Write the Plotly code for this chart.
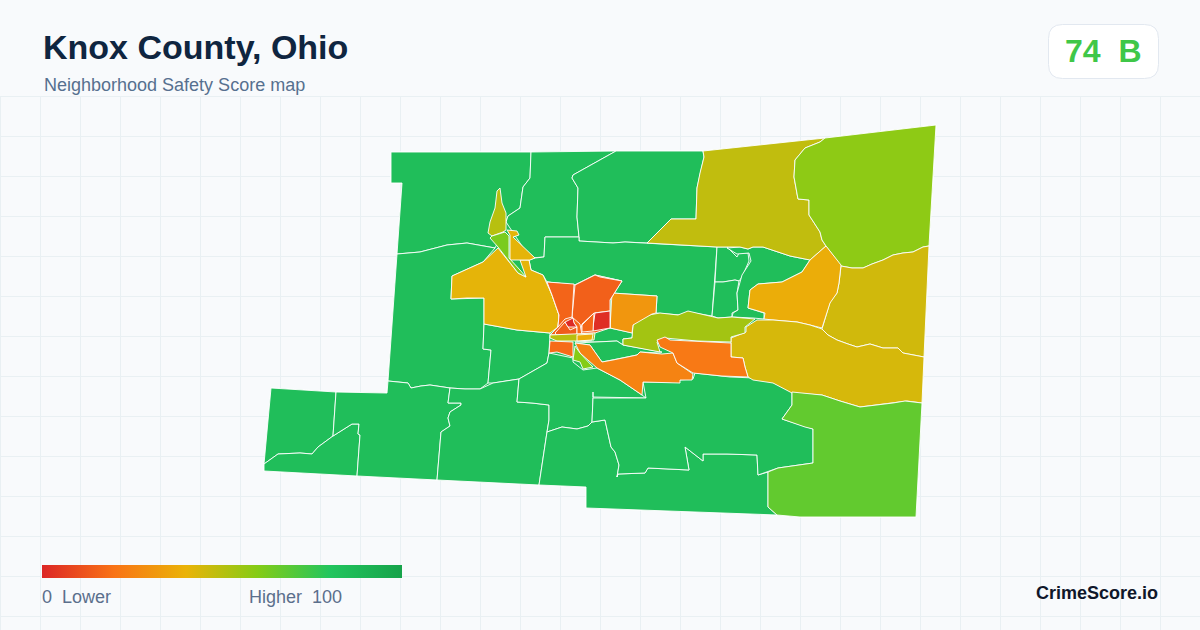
import plotly.graph_objects as go
from plotly.colors import sample_colorscale

# Map outlines are in map units (1 unit = 1 page pixel)
t_county = [(391,152),(531,152),(616,151),(703,151),(825,138),(936,125),(929,246),(924,357),(922,403),(916,517),(800,517),(777,515),(586,508),(586,487),(539,485),(437,480),(357,476),(264,471),(271,388),(336,392),(387,393),(388,381),(391,340),(397,254),(402,183),(391,183)]
t_nw = [(391,152),(531,152),(530,178),(523,187),(520,208),(508,216),(506,222),(503,232),(495,248),(467,243),(447,245),(420,252),(397,254),(402,183),(391,183)]
t_nmid = [(531,152),(616,151),(573,175),(572,178),(578,188),(577,217),(579,237),(545,237),(544,257),(530,258),(506,222),(508,216),(520,208),(523,187),(530,178)]
t_nright = [(616,151),(703,151),(704,157),(700,173),(697,188),(696,219),(671,219),(662,228),(647,243),(625,242),(613,243),(579,241),(579,237),(577,217),(578,188),(572,178),(573,175)]
t_central = [(545,237),(579,237),(579,241),(613,243),(625,242),(647,243),(680,245),(717,247),(712,316),(688,312),(680,315),(656,313),(657,296),(612,293),(622,281),(595,275),(575,285),(547,282),(543,275),(531,270),(529,260),(535,258),(544,257)]
t_cell1 = [(717,247),(727,247),(737,257),(739,253),(748,253),(749,261),(742,277),(739,281),(735,280),(723,282),(715,282)]
t_cell2 = [(715,282),(723,282),(735,280),(739,281),(737,293),(738,310),(732,313),(732,317),(718,318),(712,316)]
t_cell3 = [(727,248),(740,247),(748,249),(753,247),(763,247),(790,256),(810,260),(802,272),(782,282),(758,284),(750,290),(748,308),(764,313),(764,319),(753,318),(732,317),(733,313),(738,310),(737,293),(742,275),(751,261),(749,253),(737,254)]
t_west = [(388,381),(391,340),(397,254),(420,252),(447,245),(467,243),(495,248),(483,262),(452,276),(451,299),(484,298),(484,324),(483,349),(491,350),(488,383),(480,389),(465,389),(450,388),(430,385),(421,386),(411,388),(408,383),(400,382)]
t_westmid = [(484,324),(517,330),(550,333),(549,353),(547,363),(519,379),(493,383),(488,383),(491,350),(483,349)]
t_sw_box = [(271,388),(336,392),(333,436),(318,447),(312,454),(300,453),(278,454),(264,464)]
t_sw_low = [(264,464),(278,454),(300,453),(312,454),(318,447),(333,436),(352,424),(359,424),(358,434),(360,435),(357,476),(264,471)]
t_sw_mid = [(336,392),(387,393),(388,381),(400,382),(408,383),(411,388),(421,386),(430,385),(450,388),(448,403),(461,403),(461,405),(450,412),(448,418),(450,426),(441,432),(437,480),(357,476),(360,435),(358,434),(359,424),(352,424),(333,436)]
t_s_mid = [(450,388),(465,389),(480,389),(493,383),(519,379),(517,402),(532,403),(549,405),(549,420),(547,432),(539,485),(437,480),(441,432),(450,426),(448,418),(450,412),(461,405),(461,403),(448,403)]
t_s_town = [(519,379),(547,363),(549,353),(573,358),(573,362),(583,370),(597,368),(620,380),(642,395),(646,398),(593,397),(593,392),(593,398),(592,422),(588,426),(577,429),(562,427),(547,432),(549,420),(549,405),(532,403),(517,402)]
t_strip = [(539,485),(586,487),(586,508),(777,515),(768,507),(768,472),(758,475),(757,455),(727,454),(703,454),(703,461),(685,447),(689,470),(648,468),(645,473),(618,474),(617,477),(619,465),(615,452),(611,447),(605,420),(592,422),(588,426),(577,429),(562,427),(547,432)]
t_s_big = [(643,382),(670,382),(679,380),(693,379),(695,373),(730,377),(755,378),(770,381),(792,392),(792,405),(782,419),(805,427),(813,429),(813,463),(778,468),(758,475),(757,455),(727,454),(703,454),(703,461),(685,447),(689,470),(648,468),(645,473),(618,474),(617,477),(619,465),(615,452),(611,447),(605,420),(592,422),(593,398),(646,398)]
t_inner1 = [(593,336),(595,331),(610,328),(633,333),(632,338),(623,339),(623,345),(617,341),(595,342),(575,341)]
t_inner2 = [(575,343),(595,342),(617,341),(623,345),(662,352),(660,353),(640,352),(637,355),(613,360),(602,362),(597,355),(590,345)]

t_top_olive = [(703,151),(825,138),(820,142),(805,148),(795,160),(794,177),(798,199),(809,200),(809,215),(820,232),(822,240),(826,246),(810,260),(790,256),(763,247),(753,247),(748,249),(740,247),(717,247),(680,245),(647,243),(662,228),(671,219),(696,219),(697,188),(700,173),(704,157)]
t_ne = [(825,138),(936,125),(929,246),(923,247),(913,252),(903,253),(893,255),(883,260),(872,264),(863,268),(852,268),(841,266),(826,246),(822,240),(820,232),(809,215),(809,200),(798,199),(794,177),(795,160),(805,148),(820,142)]
t_e_mid = [(841,266),(852,268),(863,268),(872,264),(883,260),(893,255),(903,253),(913,252),(923,247),(929,246),(924,357),(903,353),(898,348),(883,348),(870,344),(857,347),(848,344),(837,340),(828,335),(822,329),(830,302),(837,293),(839,283)]
t_amber = [(826,246),(841,265),(839,283),(837,293),(830,303),(822,328),(810,325),(797,322),(773,320),(764,319),(765,313),(755,310),(748,308),(750,290),(758,284),(782,282),(802,272),(810,260)]
t_band = [(731,338),(746,332),(746,327),(757,320),(773,320),(797,322),(810,325),(822,329),(828,335),(837,340),(848,344),(857,347),(870,344),(883,348),(898,348),(903,353),(924,357),(922,403),(907,401),(893,403),(860,407),(840,401),(822,395),(792,393),(773,383),(753,380),(748,377),(745,367),(743,358),(731,357)]
t_se = [(792,392),(822,395),(840,401),(860,407),(893,403),(905,401),(922,403),(916,517),(800,517),(777,515),(768,507),(768,472),(778,468),(813,463),(813,429),(805,427),(782,419),(792,405)]
t_west_amber = [(498,248),(508,260),(518,273),(526,277),(520,260),(529,260),(531,270),(543,275),(552,295),(559,315),(558,327),(550,333),(517,330),(484,324),(484,298),(467,298),(451,299),(452,276),(483,262)]
t_sliver = [(500,188),(497,191),(495,208),(490,222),(488,233),(492,236),(503,232),(506,230),(506,213),(502,203)]
t_nw_yellow = [(507,230),(517,231),(519,235),(513,237),(535,258),(530,260),(510,260),(510,235)]
t_nw_lime = [(492,236),(505,232),(509,236),(509,258),(520,270),(526,277),(518,273),(508,260),(498,247),(490,238)]
t_band_lime = [(623,339),(632,338),(633,325),(643,316),(660,313),(678,315),(688,311),(718,318),(732,317),(755,319),(745,327),(745,333),(731,337),(731,342),(697,341),(665,338),(657,342),(660,352),(623,345)]
t_town_e = [(612,293),(657,296),(656,313),(652,314),(633,325),(632,333),(610,328)]
t_orange_c = [(575,343),(590,345),(597,355),(602,362),(613,360),(637,355),(640,352),(662,354),(673,353),(677,363),(693,374),(692,380),(680,380),(680,383),(643,382),(642,395),(620,380),(597,368),(580,353)]
t_orange_e = [(657,340),(665,337),(670,340),(731,343),(731,357),(743,358),(745,367),(748,377),(722,376),(693,373),(677,363),(673,353),(660,347)]
t_town_base = [(547,282),(575,285),(595,275),(622,281),(610,300),(610,328),(595,333),(550,335),(558,327),(559,315),(552,295)]
t_n_town = [(575,285),(595,275),(600,277),(622,281),(610,300),(610,311),(594,313),(582,324),(580,333),(574,323),(572,317)]
t_nw_town = [(547,282),(574,284),(572,317),(565,319),(558,327),(559,315),(552,295)]
t_red_e = [(595,313),(610,311),(610,328),(593,331),(593,327)]
t_town_mid = [(582,325),(594,313),(593,331),(582,332)]
t_town_sw = [(555,333),(560,327),(565,322),(570,330),(577,327),(577,335),(557,335)]
t_town_n = [(572,317),(580,324),(582,335),(577,335),(577,327),(574,323)]
t_red_core = [(565,322),(573,318),(574,323),(577,327),(568,327)]
t_under_town = [(550,335),(595,333),(594,340),(577,341),(557,341),(550,338)]
t_under_gold = [(577,335),(593,334),(592,340),(577,341)]
t_s_orange = [(550,341),(573,342),(573,357),(557,352),(549,353)]
t_s_lime = [(575,346),(580,353),(593,367),(583,369),(580,362),(573,360)]

tracts = [t_county, t_nw, t_nmid, t_nright, t_central, t_cell1, t_cell2, t_cell3, t_west, t_westmid,
          t_sw_box, t_sw_low, t_sw_mid, t_s_mid, t_s_town, t_strip, t_s_big, t_inner1, t_inner2,
          t_top_olive, t_ne, t_e_mid, t_amber, t_band, t_se, t_west_amber, t_sliver, t_nw_yellow,
          t_nw_lime, t_band_lime, t_town_e, t_orange_c, t_orange_e, t_town_base, t_n_town, t_nw_town, t_red_e,
          t_town_mid, t_town_sw, t_town_n, t_red_core, t_under_town, t_under_gold, t_s_orange, t_s_lime]
scores = [84]*19 + [48, 58, 45, 38, 44, 67, 41, 50, 41, 62, 54, 31, 25, 22, 16, 15, 16, 2,
                    17, 14, 18, 1, 50, 38, 18, 60]

score_stops = [0, 20, 40, 60, 80, 100]
stop_colors = ["#dc2626", "#f97316", "#eab308", "#84cc16", "#22c55e", "#16a34a"]
county_score = 74
county_grade = "B"
title_text = "Knox County, Ohio"
subtitle_text = "Neighborhood Safety Score map"
low_label = "0  Lower"
high_label = "Higher  100"
brand_label = "CrimeScore.io"

BG = "#f8fafc"
colorscale = [[s / 100, c] for s, c in zip(score_stops, stop_colors)]


def shade(v):
    return sample_colorscale(colorscale, [v / 100])[0]


def px(x):
    return x / 1200


def py(y):
    return (630 - y) / 534


fig = go.Figure()
for pts, score in zip(tracts, scores):
    fig.add_trace(go.Scatter(
        x=[p[0] for p in pts] + [pts[0][0]],
        y=[p[1] for p in pts] + [pts[0][1]],
        mode="lines", fill="toself", fillcolor=shade(score),
        line=dict(color="#ffffff", width=0.9), showlegend=False,
        hovertemplate=f"Score {score}<extra></extra>",
    ))

fig.add_trace(go.Scatter(
    x=[-100], y=[-100], mode="markers", showlegend=False, hoverinfo="skip",
    marker=dict(color=[score_stops[0]], cmin=score_stops[0], cmax=score_stops[-1],
                colorscale=colorscale, showscale=True, size=1,
                colorbar=dict(orientation="h", x=px(42), xanchor="left", y=py(578), yanchor="bottom",
                              len=360, lenmode="pixels", thickness=13, thicknessmode="pixels",
                              xpad=0, ypad=0, outlinewidth=0, borderwidth=0,
                              showticklabels=False, ticks="")),
))

grid = "#e9f0f3"
fig.update_xaxes(range=[0, 1200], tick0=0.5, dtick=40, showgrid=True, gridcolor=grid, gridwidth=1,
                 zeroline=False, showline=False, ticks="", showticklabels=False)
fig.update_yaxes(range=[630, 96], tick0=16.7, dtick=40, showgrid=True, gridcolor=grid, gridwidth=1,
                 zeroline=False, showline=False, ticks="", showticklabels=False)

# Edge gridlines that Plotly omits at the very border of the plot area
fig.add_shape(type="line", xref="paper", yref="paper", x0=0, x1=1, y0=py(96.5), y1=py(96.5),
              line=dict(color=grid, width=1), layer="below")
fig.add_shape(type="line", xref="paper", yref="paper", x0=px(0.5), x1=px(0.5), y0=0, y1=1,
              line=dict(color=grid, width=1), layer="below")

x0, x1, y0, y1, r = 1048.5, 1158.5, 24.5, 78.5, 14
badge = (f"M {px(x0 + r)} {py(y0)} L {px(x1 - r)} {py(y0)} Q {px(x1)} {py(y0)} {px(x1)} {py(y0 + r)} "
         f"L {px(x1)} {py(y1 - r)} Q {px(x1)} {py(y1)} {px(x1 - r)} {py(y1)} "
         f"L {px(x0 + r)} {py(y1)} Q {px(x0)} {py(y1)} {px(x0)} {py(y1 - r)} "
         f"L {px(x0)} {py(y0 + r)} Q {px(x0)} {py(y0)} {px(x0 + r)} {py(y0)} Z")
fig.add_shape(type="path", path=badge, xref="paper", yref="paper",
              fillcolor="#ffffff", line=dict(color="#e2e8f0", width=1), layer="above")


def label(text, x, y, size, color, bold=False, anchor="left"):
    fig.add_annotation(text=f"<b>{text}</b>" if bold else text, x=px(x), y=py(y), xref="paper", yref="paper",
                       xanchor=anchor, yanchor="middle", showarrow=False,
                       font=dict(family="Liberation Sans, Arial, sans-serif", size=size, color=color))


label(title_text, 40.5, 47, 34, "#0f2540", bold=True)
label(subtitle_text, 41.5, 85, 18, "#56708f")
label(low_label.replace("  ", "&nbsp;&nbsp;"), 40, 597, 18, "#5b6f8c")
label(high_label.replace("  ", "&nbsp;&nbsp;"), 247, 597, 18, "#5b6f8c")
label(brand_label, 1160, 593, 18, "#0f172a", bold=True, anchor="right")
label(f"{county_score}&nbsp;&nbsp;{county_grade}", 1102.5, 51, 32, shade(county_score), bold=True, anchor="center")

fig.update_layout(width=1200, height=630, margin=dict(l=0, r=0, t=96, b=0, pad=0, autoexpand=False),
                  paper_bgcolor=BG, plot_bgcolor=BG)

fig.write_html("out.html", config={"displayModeBar": False},
               post_script="document.body.style.margin='0';document.body.style.overflow='hidden';")
